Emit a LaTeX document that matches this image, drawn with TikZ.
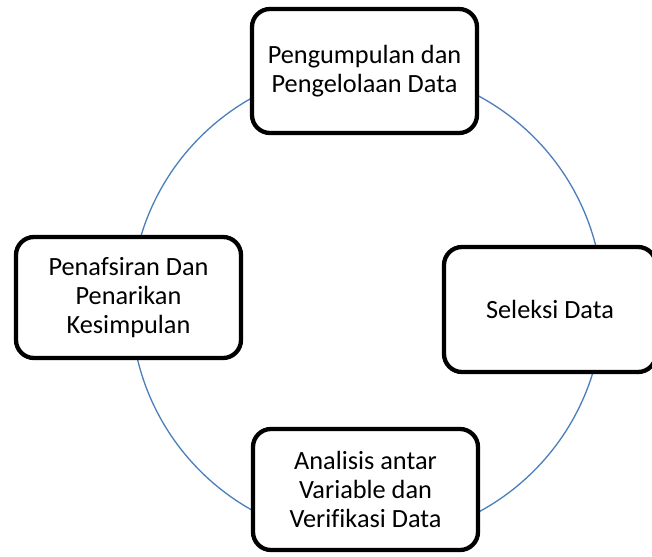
\documentclass[tikz,border=0pt]{standalone}
\usepackage{fontspec}
\setmainfont[Ligatures=NoCommon]{Carlito}
\begin{document}
\begin{tikzpicture}[x=1pt,y=-1pt,
  stagebox/.style={draw=black, line width=4.3pt, rounded corners=18pt, fill=white,
    align=center, inner sep=0pt,
    font=\fontsize{26.3}{29}\selectfont},
  cycleline/.style={draw=cyclecol, line width=1.3pt}]
\definecolor{cyclecol}{RGB}{74,126,187}
\useasboundingbox (0,0) rectangle (652,556);
\coordinate (c) at (367,304);
\draw[cycleline] (c) circle[radius=236];
\node[stagebox, minimum width=225pt, minimum height=124pt] (top) at (364.5,71)
  {Pengumpulan dan\\Pengelolaan Data};
\node[stagebox, minimum width=212pt, minimum height=125pt] (right) at (550,309.5)
  {Seleksi Data};
\node[stagebox, minimum width=225pt, minimum height=121pt] (bottom) at (365.5,489.5)
  {Analisis antar\\Variable dan\\Verifikasi Data};
\node[stagebox, minimum width=225pt, minimum height=121pt] (left) at (128.5,297.5)
  {Penafsiran Dan\\Penarikan\\Kesimpulan};
\end{tikzpicture}
\end{document}
